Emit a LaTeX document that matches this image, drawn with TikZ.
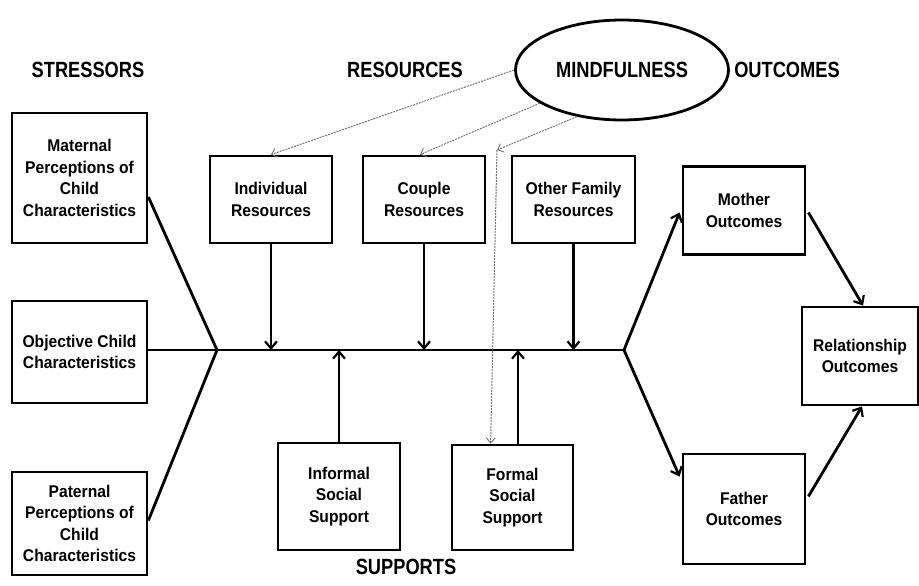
\documentclass[tikz,border=0pt]{standalone}
\usepackage{fontspec}
\setmainfont[FakeStretch=0.92]{Liberation Sans}
\newfontfamily\headfont[FakeStretch=0.83]{Liberation Sans}
\usetikzlibrary{arrows.meta,calc,shapes.geometric}
\begin{document}
\begin{tikzpicture}[x=1pt,y=-1pt,
  box/.style={draw,line width=2.8pt,rectangle,align=center,inner sep=2pt,
    font=\fontsize{17}{21.5}\selectfont\bfseries},
  head/.style={font=\headfont\fontsize{22}{26}\selectfont\bfseries},
  conn/.style={line width=2.8pt},
  arr/.style={line width=2.8pt,-{Straight Barb[length=7pt,width=12pt,line width=2.2pt]}},
  mind/.style={draw=black!55,line width=1pt,dash pattern=on 2pt off 1pt,
    -{Straight Barb[length=5pt,width=9pt,line width=0.9pt]}}]
\useasboundingbox (0,0) rectangle (919,586);
% headings
\node[head] (hs) at (88,70) {STRESSORS};
\node[head] (hr) at (405,70) {RESOURCES};
\node[head] (ho) at (787,70) {OUTCOMES};
\node[head] (hsu) at (406,567) {SUPPORTS};
\node[draw,ellipse,line width=2.8pt,minimum width=213pt,minimum height=100pt,head] (mind) at (622,70) {MINDFULNESS};
% stressor boxes
\node[box,minimum width=135pt,minimum height=130pt] (mat) at (79.5,178) {Maternal\\Perceptions of\\Child\\Characteristics};
\node[box,minimum width=135pt,minimum height=102pt] (obj) at (79.5,352) {Objective Child\\Characteristics};
\node[box,minimum width=135pt,minimum height=103pt] (pat) at (79.5,523.5) {Paternal\\Perceptions of\\Child\\Characteristics};
% resource boxes
\node[box,minimum width=122pt,minimum height=87pt] (ind) at (271,199.5) {Individual\\Resources};
\node[box,minimum width=122pt,minimum height=87pt] (cou) at (424,199.5) {Couple\\Resources};
\node[box,minimum width=123pt,minimum height=87pt] (oth) at (573.5,199.5) {Other Family\\Resources};
% supports
\node[box,minimum width=122pt,minimum height=107pt] (inf) at (339,496.5) {Informal\\Social\\Support};
\node[box,minimum width=121pt,minimum height=105pt] (for) at (512.5,497.5) {Formal\\Social\\Support};
% outcomes
\node[box,minimum width=122pt,minimum height=88pt] (mot) at (744,210.5) {Mother\\Outcomes};
\node[box,minimum width=122pt,minimum height=110pt] (fat) at (744,509) {Father\\Outcomes};
\node[box,minimum width=116pt,minimum height=98pt] (rel) at (860,356) {Relationship\\Outcomes};
% junctions
\coordinate (jl) at (217,350);
\coordinate (jr) at (624,350);
\coordinate (mk) at (497,150);
\coordinate (fu) at ($(for.north)+(5.5,0)$);
% spine and stressor links
\draw[conn] (obj.east |- jl) -- (jr);
\draw[conn,line join=miter] ($(mat.east)+(0,19)$) -- (jl) -- ($(pat.east)+(0,-3)$);
% resources down
\draw[arr] (ind.south) -- (ind.south |- jl);
\draw[arr] (cou.south) -- (cou.south |- jl);
\draw[arr] (oth.south) -- (oth.south |- jl);
% supports up
\draw[arr] (inf.north) -- (inf.north |- jl);
\draw[arr] (fu) -- (fu |- jl);
% outcomes
\draw[arr] (jr) -- ($(mot.west)+(-2,2)$);
\draw[arr] (jr) -- ($(fat.north west)+(-2,24)$);
\draw[arr] ($(mot.east)+(2,2)$) -- ($(rel.north)+(3,0)$);
\draw[arr] ($(fat.south east)+(2,-69)$) -- ($(rel.south)+(2,0)$);
% mindfulness
\draw[mind] (mind.180) -- (ind.north);
\draw[mind] (mind.202) -- ($(cou.north)+(-4,0)$);
\draw[mind] (mind.226) -- (mk);
\draw[mind] (mk) -- ($(for.north west)+(40,0)$);
\end{tikzpicture}
\end{document}
